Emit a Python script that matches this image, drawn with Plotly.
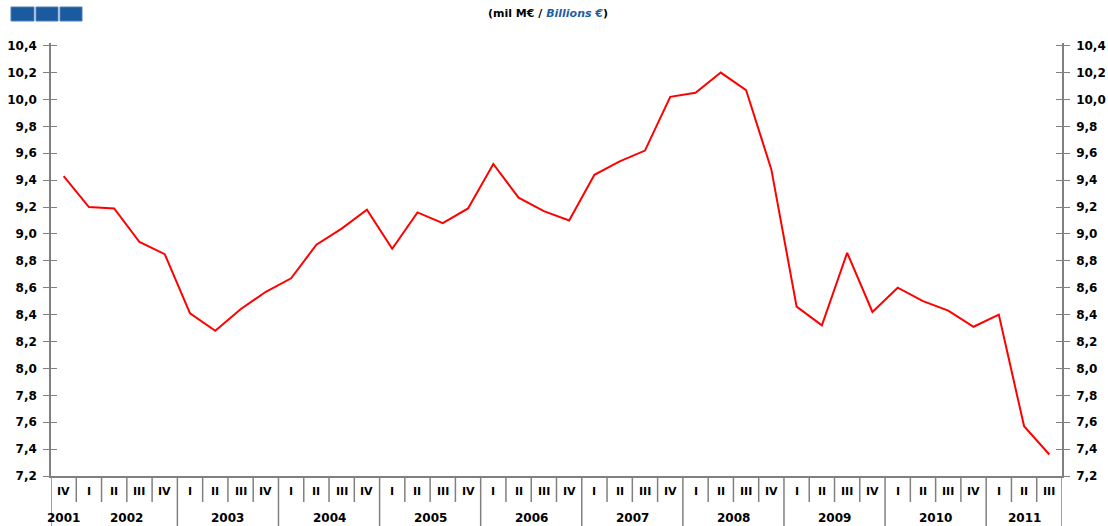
import plotly.graph_objects as go

# ---- data ----
years = ["2001", "2002", "2003", "2004", "2005", "2006", "2007", "2008", "2009", "2010", "2011"]
quarters_per_year = [1, 4, 4, 4, 4, 4, 4, 4, 4, 4, 3]
quarter_labels = (["IV"] + ["I", "II", "III", "IV"] * 9 + ["I", "II", "III"])
values = [9.43, 9.20, 9.19, 8.94, 8.85, 8.41, 8.28, 8.44, 8.57, 8.67,
          8.92, 9.04, 9.18, 8.89, 9.16, 9.08, 9.19, 9.52, 9.27, 9.17,
          9.10, 9.44, 9.54, 9.62, 10.02, 10.05, 10.20, 10.07, 9.48, 8.46,
          8.32, 8.86, 8.42, 8.60, 8.50, 8.43, 8.31, 8.40, 7.57, 7.36]
y_ticks = [7.2, 7.4, 7.6, 7.8, 8.0, 8.2, 8.4, 8.6, 8.8, 9.0, 9.2, 9.4, 9.6, 9.8, 10.0, 10.2, 10.4]
y_tick_text = [f"{v:.1f}".replace(".", ",") for v in y_ticks]

W, H = 1108, 526
L, R, T, B = 51, 46, 43, 50
PW, PH = W - L - R, H - T - B

def px_x(px):
    return (px - L) / PW

def px_y(py):
    return (H - B - py) / PH

idx = list(range(len(values)))
fig = go.Figure()
fig.add_trace(go.Scatter(x=idx, y=values, mode="lines",
                         line=dict(color="#ff0000", width=2), showlegend=False))
# helper invisible traces for overlay axes
for ax in ["y2", "y3", "y4"]:
    fig.add_trace(go.Scatter(x=[idx[0]], y=[values[0]], yaxis=ax, mode="markers",
                             marker=dict(opacity=0), showlegend=False, hoverinfo="skip"))

axcol = "#808080"
tickfont = dict(family="DejaVu Sans", size=12, color="#000000", weight="bold")
common_y = dict(range=[7.2, 10.42], tickvals=y_ticks, ticktext=y_tick_text,
                showgrid=False, zeroline=False, showline=True, linecolor=axcol,
                linewidth=1.5, tickcolor=axcol, tickwidth=1, ticklen=6, automargin=False)

fig.update_layout(
    width=W, height=H,
    margin=dict(l=L, r=R, t=T, b=B, autoexpand=False),
    paper_bgcolor="white", plot_bgcolor="white",
    xaxis=dict(range=[-0.5, len(values) - 0.5], showticklabels=False, ticks="", automargin=False,
               showgrid=False, zeroline=False, showline=True, linecolor=axcol, linewidth=1.5),
    yaxis=dict(side="left", ticks="outside", tickfont=tickfont, ticklabelstandoff=4, **common_y),
    yaxis2=dict(side="right", overlaying="y", ticks="outside", tickfont=tickfont, ticklabelstandoff=4, **common_y),
    yaxis3=dict(side="left", overlaying="y", ticks="inside", showticklabels=False, **common_y),
    yaxis4=dict(side="right", overlaying="y", ticks="inside", showticklabels=False, **common_y),
)

shapes = []
annotations = []
q_y = px_y(492)
yr_y = px_y(518)
sep_short = px_y(502)
sep_long = px_y(H)

bounds = []
c = 0
for n in quarters_per_year:
    c += n
    bounds.append(c)
year_bounds = set(bounds[:-1])

for k in range(1, len(values)):
    bottom = sep_long if (k in year_bounds and k != 1) else sep_short
    shapes.append(dict(type="line", xref="x", yref="paper", x0=k - 0.5, x1=k - 0.5,
                       y0=0, y1=bottom, line=dict(color=axcol, width=1.5)))
for xe in [-0.5, len(values) - 0.5]:
    shapes.append(dict(type="line", xref="x", yref="paper", x0=xe, x1=xe,
                       y0=0, y1=sep_long, line=dict(color=axcol, width=1.5)))

for i, q in enumerate(quarter_labels):
    annotations.append(dict(x=i, y=q_y, xref="x", yref="paper", text=f"<b>{q}</b>",
                            showarrow=False, font=dict(family="DejaVu Sans", size=11, color="#000"),
                            xanchor="center", yanchor="middle"))
start = 0
for yr, n in zip(years, quarters_per_year):
    center = start + (n - 1) / 2
    annotations.append(dict(x=center, y=yr_y, xref="x", yref="paper", text=f"<b>{yr}</b>",
                            showarrow=False, font=dict(family="DejaVu Sans", size=12, color="#000"),
                            xanchor="center", yanchor="middle"))
    start += n

annotations.append(dict(x=px_x(548), y=px_y(13), xref="paper", yref="paper",
                        text="<b>(mil M€ / <span style='color:#1f5fa0'><i>Billions €</i></span>)</b>",
                        showarrow=False, font=dict(family="DejaVu Sans", size=11, color="#000"),
                        xanchor="center", yanchor="middle"))

for x0, x1 in [(11, 34), (36, 58), (60, 82)]:
    shapes.append(dict(type="rect", xref="paper", yref="paper",
                       x0=px_x(x0), x1=px_x(x1), y0=px_y(21), y1=px_y(7),
                       fillcolor="#1a5a9e", line=dict(color="#4f7fb8", width=1)))

fig.update_layout(shapes=shapes, annotations=annotations)
fig.write_html("out.html", config={"displayModeBar": False},
               post_script="document.body.style.margin='0';document.body.style.overflow='hidden';")
